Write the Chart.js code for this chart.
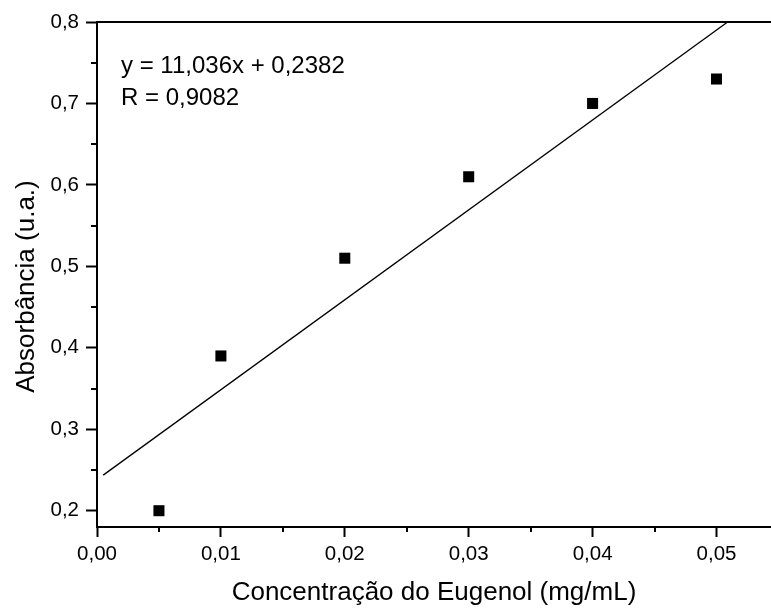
<!DOCTYPE html>
<html>
<head>
<meta charset="utf-8">
<script src="https://cdn.jsdelivr.net/npm/chart.js@4.4.1/dist/chart.umd.min.js"></script>
<style>
  html, body { margin: 0; padding: 0; background: #fff; }
  #wrap { width: 771px; height: 608px; position: relative; }
</style>
</head>
<body>
<div id="wrap"><canvas id="chart"></canvas></div>
<script>
// measured points
const concentration = [0.005, 0.01, 0.02, 0.03, 0.04, 0.05];
const absorbance = [0.20, 0.39, 0.51, 0.61, 0.70, 0.73];

// fitted line, ends
const fitX = [0.0005, 0.0509];
const fitY = [0.2437, 0.8];

// axis ticks
const xTicks = [0, 0.01, 0.02, 0.03, 0.04, 0.05];
const xMinorTicks = [0.005, 0.015, 0.025, 0.035, 0.045];
const yTicks = [0.2, 0.3, 0.4, 0.5, 0.6, 0.7, 0.8];
const yMinorTicks = [0.25, 0.35, 0.45, 0.55, 0.65, 0.75];

const fitText = ["y = 11,036x + 0,2382", "R = 0,9082"];
const yTitle = "Absorbância (u.a.)";

const FONT = "'Liberation Sans', Arial, sans-serif";

const comma = (v, d) => v.toFixed(d).replace(".", ",");

// minor ticks, top frame line, y title and the equation text
const extras = {
  id: "extras",
  afterDraw(chart) {
    const { ctx, chartArea } = chart;
    const xs = chart.scales.x;
    const ys = chart.scales.y;
    ctx.save();
    ctx.strokeStyle = "#000";
    ctx.lineWidth = 2;
    ctx.beginPath();
    xMinorTicks.forEach((v) => {
      const px = Math.round(xs.getPixelForValue(v));
      ctx.moveTo(px, chartArea.bottom);
      ctx.lineTo(px, chartArea.bottom + 5);
    });
    yMinorTicks.forEach((v) => {
      const py = Math.round(ys.getPixelForValue(v));
      ctx.moveTo(chartArea.left, py);
      ctx.lineTo(chartArea.left - 6, py);
    });
    ctx.moveTo(chartArea.left - 1, chartArea.top);
    ctx.lineTo(chartArea.right, chartArea.top);
    ctx.stroke();

    ctx.fillStyle = "#000";
    ctx.font = "24px " + FONT;
    ctx.textBaseline = "middle";
    ctx.textAlign = "left";
    ctx.fillText(fitText[0], chartArea.left + 24, chartArea.top + 44);
    ctx.fillText(fitText[1], chartArea.left + 24, chartArea.top + 76);

    ctx.font = "26px " + FONT;
    ctx.textAlign = "center";
    ctx.translate(27, (chartArea.top + chartArea.bottom) / 2 + 12);
    ctx.rotate(-Math.PI / 2);
    ctx.fillText(yTitle, 0, 0);
    ctx.restore();
  },
};

new Chart(document.getElementById("chart"), {
  type: "scatter",
  data: {
    datasets: [
      {
        label: "Absorbância",
        data: concentration.map((x, i) => ({ x, y: absorbance[i] })),
        pointStyle: "rect",
        pointRadius: 7.8,
        pointBorderWidth: 0,
        backgroundColor: "#000",
        borderColor: "#000",
      },
      {
        type: "line",
        label: "Ajuste",
        data: fitX.map((x, i) => ({ x, y: fitY[i] })),
        borderColor: "#000",
        borderWidth: 1.3,
        pointRadius: 0,
        fill: false,
      },
    ],
  },
  options: {
    responsive: true,
    maintainAspectRatio: false,
    animation: false,
    layout: { autoPadding: false, padding: { top: 22, right: 0, bottom: 0, left: 0 } },
    plugins: {
      legend: { display: false },
      tooltip: { enabled: false },
    },
    scales: {
      x: {
        type: "linear",
        min: 0,
        max: 0.0544,
        afterBuildTicks: (s) => { s.ticks = xTicks.map((value) => ({ value })); },
        afterFit: (s) => { s.height = 81; },
        grid: { drawOnChartArea: false, tickLength: 10, tickWidth: 2, tickColor: "#000" },
        border: { color: "#000", width: 2 },
        ticks: {
          color: "#000",
          padding: 5,
          maxRotation: 0,
          font: { family: FONT, size: 20.5 },
          callback: (v) => comma(v, 2),
        },
        title: {
          display: true,
          text: "Concentração do Eugenol (mg/mL)",
          color: "#000",
          font: { family: FONT, size: 26 },
          padding: { top: 0, bottom: 0 },
        },
      },
      y: {
        min: 0.18,
        max: 0.8,
        afterBuildTicks: (s) => { s.ticks = yTicks.map((value) => ({ value })); },
        afterFit: (s) => { s.width = 97; },
        grid: { drawOnChartArea: false, tickLength: 11, tickWidth: 2, tickColor: "#000" },
        border: { color: "#000", width: 2 },
        ticks: {
          color: "#000",
          padding: 7,
          font: { family: FONT, size: 20.5 },
          callback: (v) => comma(v, 1),
        },
        title: { display: false },
      },
    },
  },
  plugins: [extras],
});
</script>
</body>
</html>
